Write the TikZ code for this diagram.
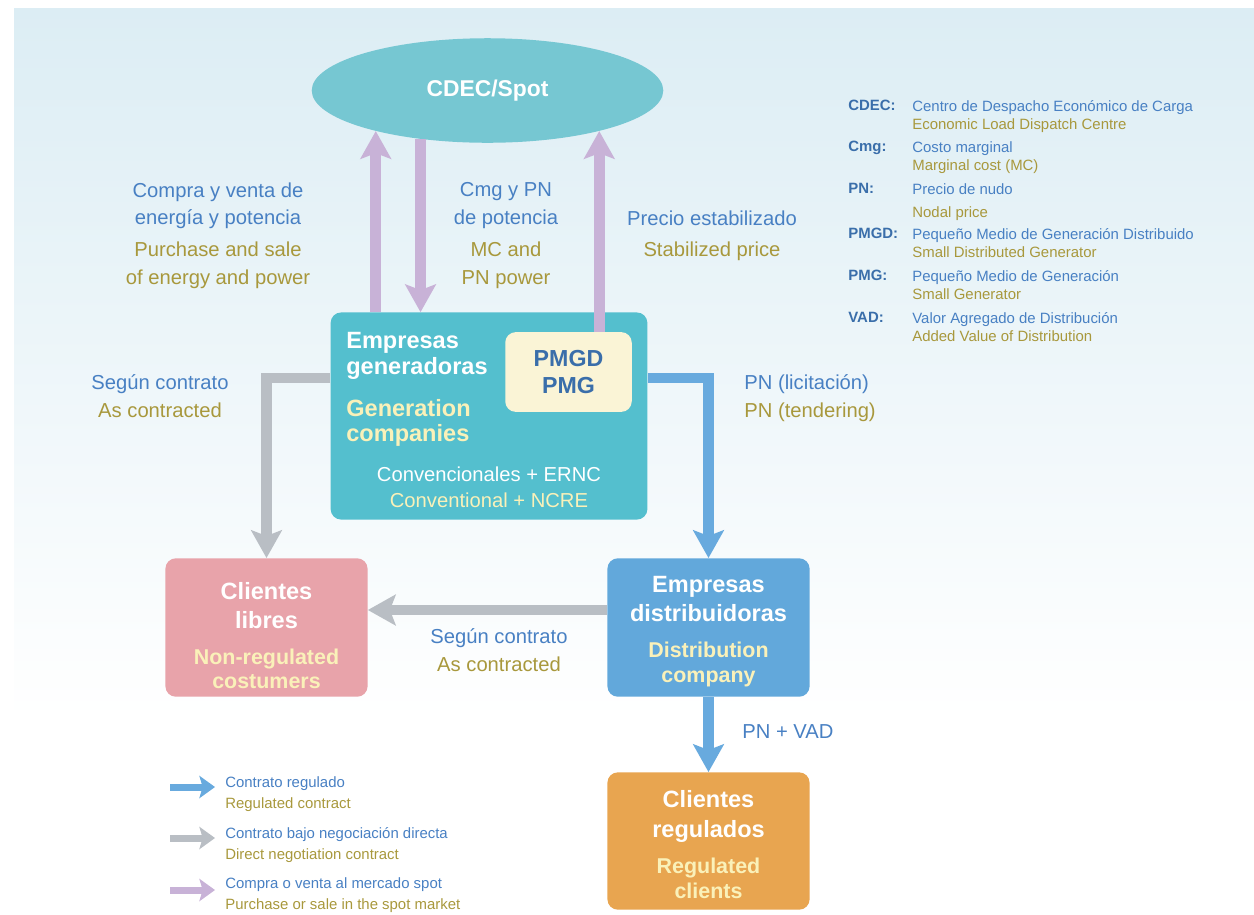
\documentclass[tikz,border=0pt]{standalone}
\usepackage{fontspec}
\setmainfont{Liberation Sans}
\usetikzlibrary{arrows.meta,shapes.geometric}
\definecolor{bgtop}{RGB}{220,237,244}
\definecolor{cdecc}{RGB}{118,199,210}
\definecolor{genc}{RGB}{84,191,206}
\definecolor{pmgc}{RGB}{250,244,214}
\definecolor{pmgt}{RGB}{58,110,170}
\definecolor{libc}{RGB}{232,163,170}
\definecolor{distc}{RGB}{98,168,219}
\definecolor{regc}{RGB}{232,165,80}
\definecolor{cream}{RGB}{250,241,185}
\definecolor{tblue}{RGB}{72,128,195}
\definecolor{olive}{RGB}{168,152,60}
\definecolor{purp}{RGB}{200,178,215}
\definecolor{grayarr}{RGB}{185,190,196}
\definecolor{bluearr}{RGB}{104,170,222}
\newcommand\whitetxt[1]{\textcolor{white}{#1}}
\newcommand\creamtxt[1]{\textcolor{cream}{\fontsize{12.2}{13}\selectfont #1}}
\tikzset{box/.style={rounded corners=6pt,inner sep=0pt,minimum width=115.1pt,minimum height=78.8pt,align=center,font=\bfseries\fontsize{13.4}{16.9}\selectfont},
lbl/.style={inner sep=0pt,align=center,font=\fontsize{11.5}{15.9}\selectfont},
gls/.style={inner sep=0pt,align=left,anchor=north west,font=\fontsize{8.5}{10.5}\selectfont},
arr/.style={line width=6.2pt,-{Stealth[length=16pt,width=18pt,inset=3.5pt,line width=0pt]}},
parr/.style={arr,draw=purp},garr/.style={arr,draw=grayarr},barr/.style={arr,draw=bluearr},
leg/.style={line width=4pt,-{Stealth[length=9pt,width=13pt,inset=2pt,line width=0pt]}}}

\begin{document}
\begin{tikzpicture}[x=0.02cm,y=-0.02cm]
\useasboundingbox (0,0) rectangle (1254,914);
\shade[top color=bgtop,bottom color=white] (14,8) rectangle (1254,720);

\node[ellipse,fill=cdecc,minimum width=200.1pt,minimum height=59.5pt,inner sep=0pt,text=white,font=\bfseries\fontsize{13}{15}\selectfont] (cdec) at (487.5,90.5) {CDEC/Spot};
\node[box,fill=genc,minimum width=180.3pt,minimum height=117.9pt] (gen) at (489,416) {};
\node[box,fill=pmgc,minimum width=72pt,minimum height=45.4pt,text=pmgt,font=\bfseries\fontsize{13.2}{15.3}\selectfont] (pmg) at (568.5,372) {PMGD\\PMG};
\node[box,fill=libc] (libres) at (266.5,627.5) {\rule{0pt}{19pt}\whitetxt{Clientes}\\\whitetxt{libres}\\[3.4pt]\creamtxt{Non-regulated}\\[-3pt]\creamtxt{costumers}};
\node[box,fill=distc] (dist) at (708.5,627.5) {\rule{0pt}{14pt}\whitetxt{Empresas}\\\whitetxt{distribuidoras}\\[3.4pt]\creamtxt{Distribution}\\[-2.5pt]\creamtxt{company}};
\node[box,fill=regc,minimum height=78.2pt] (reg) at (708.5,841) {\rule{0pt}{14pt}\whitetxt{Clientes}\\\whitetxt{regulados}\\[3.4pt]\creamtxt{Regulated}\\[-2.5pt]\creamtxt{clients}};

% text in the generation box
\node[inner sep=0pt,anchor=north west,align=left,font=\bfseries\fontsize{13.4}{15.3}\selectfont] (gent) at (346,331.5) {\whitetxt{Empresas}\\\whitetxt{generadoras}\\[8.5pt]\textcolor{cream}{Generation}\\[-1pt]\textcolor{cream}{companies}};
\node[lbl,anchor=north,font=\fontsize{11.5}{15.2}\selectfont] (conv) at (489,466) {\whitetxt{Convencionales + ERNC}\\\textcolor{cream}{Conventional + NCRE}};

% flows
\draw[parr] (gen.north -| cdec.200) -- (cdec.200);
\draw[parr] (cdec.216) -- (gen.north -| cdec.216);
\draw[parr] (pmg.north -| cdec.340) -- (cdec.340);
\draw[garr] (gen.west |- 0,378) -| (libres.north);
\draw[barr] (gen.east |- 0,378) -| (dist.north);
\draw[garr] (dist.west |- 0,610) -- (libres.east |- 0,610);
\draw[barr] (dist.south) -- (reg.north);

% labels
\node[lbl,anchor=north] (compra) at (218,182) {\textcolor{tblue}{Compra y venta de}\\\textcolor{tblue}{energía y potencia}\\[2.3pt]\textcolor{olive}{Purchase and sale}\\\textcolor{olive}{of energy and power}};
\node[lbl,anchor=north] (cmg) at (506,182) {\textcolor{tblue}{Cmg y PN}\\\textcolor{tblue}{de potencia}\\[2.3pt]\textcolor{olive}{MC and}\\\textcolor{olive}{PN power}};
\node[lbl,anchor=north] (precio) at (712,210) {\textcolor{tblue}{Precio estabilizado}\\[2.3pt]\textcolor{olive}{Stabilized price}};
\node[lbl,anchor=north] (segun1) at (160,374) {\textcolor{tblue}{Según contrato}\\\textcolor{olive}{As contracted}};
\node[lbl,anchor=north west,align=left] (licit) at (744,374) {\textcolor{tblue}{PN (licitación)}\\\textcolor{olive}{PN (tendering)}};
\node[lbl,anchor=north] (segun2) at (499,628) {\textcolor{tblue}{Según contrato}\\\textcolor{olive}{As contracted}};
\node[lbl,anchor=north west] (pnvad) at (742,724) {\textcolor{tblue}{PN + VAD}};

% glossary
\node[gls,text=pmgt,font=\bfseries\fontsize{8.5}{10.5}\selectfont] (ab1) at (848,100) {CDEC:};
\node[gls] (df1) at (912,100) {\textcolor{tblue}{Centro de Despacho Económico de Carga}\\\textcolor{olive}{Economic Load Dispatch Centre}};
\node[gls,text=pmgt,font=\bfseries\fontsize{8.5}{10.5}\selectfont] (ab2) at (848,141) {Cmg:};
\node[gls] (df2) at (912,141) {\textcolor{tblue}{Costo marginal}\\\textcolor{olive}{Marginal cost (MC)}};
\node[gls,text=pmgt,font=\bfseries\fontsize{8.5}{10.5}\selectfont] (ab3) at (848,183) {PN:};
\node[gls] (df3) at (912,183) {\textcolor{tblue}{Precio de nudo}\\[2.5pt]\textcolor{olive}{Nodal price}};
\node[gls,text=pmgt,font=\bfseries\fontsize{8.5}{10.5}\selectfont] (ab4) at (848,228) {PMGD:};
\node[gls] (df4) at (912,228) {\textcolor{tblue}{Pequeño Medio de Generación Distribuido}\\\textcolor{olive}{Small Distributed Generator}};
\node[gls,text=pmgt,font=\bfseries\fontsize{8.5}{10.5}\selectfont] (ab5) at (848,270) {PMG:};
\node[gls] (df5) at (912,270) {\textcolor{tblue}{Pequeño Medio de Generación}\\\textcolor{olive}{Small Generator}};
\node[gls,text=pmgt,font=\bfseries\fontsize{8.5}{10.5}\selectfont] (ab6) at (848,312) {VAD:};
\node[gls] (df6) at (912,312) {\textcolor{tblue}{Valor Agregado de Distribución}\\\textcolor{olive}{Added Value of Distribution}};

% legend
\coordinate (la1) at (170,787); \coordinate (lb1) at (215,787);
\coordinate (la2) at (170,838); \coordinate (lb2) at (215,838);
\coordinate (la3) at (170,890); \coordinate (lb3) at (215,890);
\draw[leg,draw=bluearr] (la1) -- (lb1);
\draw[leg,draw=grayarr] (la2) -- (lb2);
\draw[leg,draw=purp] (la3) -- (lb3);
\node[gls,font=\fontsize{8.5}{12}\selectfont] (lg1) at (225,776) {\textcolor{tblue}{Contrato regulado}\\\textcolor{olive}{Regulated contract}};
\node[gls,font=\fontsize{8.5}{12}\selectfont] (lg2) at (225,827) {\textcolor{tblue}{Contrato bajo negociación directa}\\\textcolor{olive}{Direct negotiation contract}};
\node[gls,font=\fontsize{8.5}{12}\selectfont] (lg3) at (225,877) {\textcolor{tblue}{Compra o venta al mercado spot}\\\textcolor{olive}{Purchase or sale in the spot market}};
\end{tikzpicture}
\end{document}
